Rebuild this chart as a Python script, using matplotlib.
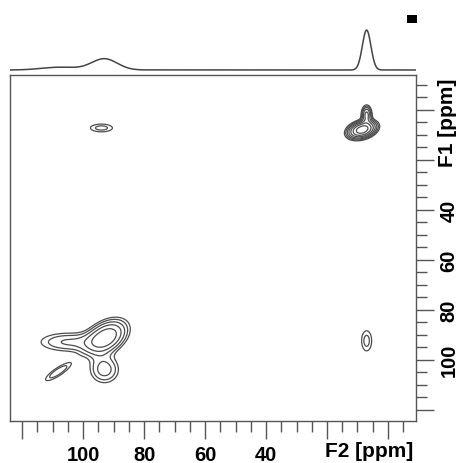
import numpy as np
import matplotlib
matplotlib.use('Agg')
import matplotlib.pyplot as plt
from matplotlib.patches import Rectangle

plt.rcParams['font.family'] = ['Liberation Sans', 'DejaVu Sans']

# %% 1D projection (F2) peaks: position [ppm], height, width (sigma, ppm)
proj_ppm = [107.5, 93.0, 7.0]
proj_height = [0.07, 0.28, 1.0]
proj_width = [6.0, 4.2, 1.4]

# %% 2D contour peaks: F2, F1 [ppm], widths, amplitude, tilt
peak_f2 = [8.5, 7.0, 94.0, 7.0, 92.5, 93.0, 105.0, 108.2]
peak_f1 = [8.0, 2.0, 7.3, 92.5, 91.0, 104.0, 93.0, 104.9]
peak_w2 = [2.6, 1.0, 3.5, 1.6, 4.2, 3.3, 7.0, 3.5]
peak_w1 = [2.0, 2.2, 1.5, 3.9, 4.2, 3.8, 2.8, 3.0]
peak_amp = [12.0, 5.0, 1.7, 1.7, 6.0, 2.6, 2.2, 2.0]
peak_tilt = [0.3, 0.0, 0.0, 0.0, 0.4, 0.0, 0.0, 0.85]

f2_ticks = [100, 80, 60, 40]
f1_ticks = [40, 60, 80, 100]

f2_lim = (124.0, -9.2)
f1_lim = (124.6, -13.9)

# %% build surface
f2 = np.linspace(f2_lim[1], f2_lim[0], 500)
f1 = np.linspace(f1_lim[1], f1_lim[0], 500)
X, Y = np.meshgrid(f2, f1)
Z = np.zeros_like(X)
for c2, c1, s2, s1, a, r in zip(peak_f2, peak_f1, peak_w2, peak_w1, peak_amp, peak_tilt):
    dx = (X - c2) / s2
    dy = (Y - c1) / s1
    q = (dx**2 - 2*r*dx*dy + dy**2) / (1 - r**2)
    Z += a * np.exp(-0.5*q)

levels = 1.0 * 1.45**np.arange(10)

proj = np.zeros_like(f2)
for p, h, w in zip(proj_ppm, proj_height, proj_width):
    proj += h * np.exp(-0.5*((f2 - p)/w)**2)

# %% figure
W, H = 461, 464
fig = plt.figure(figsize=(W/100, H/100), dpi=100)
ax = fig.add_axes([10/W, 1-422/H, 406/W, 346/H])
ax.contour(X, Y, Z, levels=levels, colors='#4d4d4d', linewidths=0.9)
ax.set_xlim(f2_lim)
ax.set_ylim(f1_lim)

gray = '#555555'
for s in ax.spines.values():
    s.set_color(gray)
    s.set_linewidth(1.0)

ax.set_xticks(np.arange(-5, 121, 5), minor=True)
ax.set_xticks(np.arange(0, 121, 20))
ax.set_xticklabels(['' if t not in f2_ticks else str(t) for t in np.arange(0, 121, 20)])
ax.yaxis.tick_right()
ax.set_yticks(np.arange(-10, 121, 5), minor=True)
ax.set_yticks(np.arange(0, 121, 20))
ax.set_yticklabels(['' if t not in f1_ticks else str(t) for t in np.arange(0, 121, 20)],
                   rotation=90, va='center')
ax.tick_params(which='major', length=13, width=1.0, color=gray, labelsize=14.5, pad=4)
ax.tick_params(which='minor', length=8, width=1.0, color=gray)
for lab in ax.get_xticklabels() + ax.get_yticklabels():
    lab.set_fontweight('bold')

fig.text(369/W, 1-452/H, 'F2 [ppm]', ha='center', va='center', fontsize=15, fontweight='bold')
fig.text(447/W, 1-123/H, 'F1 [ppm]', ha='center', va='center', rotation=90,
         fontsize=15, fontweight='bold')

# %% projection on top
axp = fig.add_axes([10/W, 1-80/H, 406/W, 60/H])
axp.plot(f2, proj, color='#444444', lw=1.1)
axp.set_xlim(f2_lim)
axp.set_ylim(-0.225, 1.275)
axp.axis('off')

fig.add_artist(Rectangle((407/W, 1-24/H), 10/W, 8/H, transform=fig.transFigure,
                         facecolor='black', edgecolor='none'))

fig.savefig('out.png', dpi=100)
